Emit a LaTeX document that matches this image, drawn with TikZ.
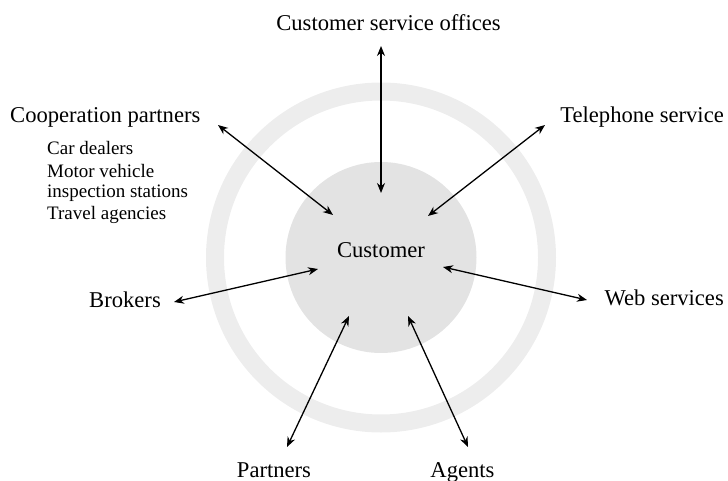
\documentclass[tikz,border=0pt]{standalone}
\usepackage{fontspec}
\setmainfont{Liberation Serif}
\usetikzlibrary{arrows.meta}
\definecolor{ringgray}{HTML}{EDEDED}
\definecolor{coregray}{HTML}{E3E3E3}
\begin{document}
\begin{tikzpicture}[x=1pt,y=-1pt,
  maintext/.style={inner sep=0pt, font=\fontsize{22.6}{26}\selectfont},
  subtext/.style={anchor=base west, inner sep=0pt, font=\fontsize{19}{22}\selectfont},
  biarrow/.style={line width=1.3pt,
    {Stealth[length=10pt,width=8pt]}-{Stealth[length=10pt,width=8pt]}}]
\useasboundingbox (0,0) rectangle (728,481);

% outer ring and customer core
\draw[ringgray, line width=18pt] (381,257.5) circle[radius=166];
\fill[coregray] (381,257.5) circle[radius=95.5];
\node[maintext, anchor=base] (customer) at (381,258) {Customer};

% channel labels
\node[maintext, anchor=base] (cso) at (388.5,31) {Customer service offices};
\node[maintext, anchor=base west] (coop) at (10,123) {Cooperation partners};
\node[subtext] (car) at (47,155) {Car dealers};
\node[subtext] (motor) at (47,178) {Motor vehicle};
\node[subtext] (insp) at (47,197) {inspection stations};
\node[subtext] (travel) at (47,220) {Travel agencies};
\node[maintext, anchor=base east] (tel) at (724,123) {Telephone service};
\node[maintext, anchor=base east] (brokers) at (161,307) {Brokers};
\node[maintext, anchor=base east] (web) at (724,305) {Web services};
\node[maintext, anchor=base] (partners) at (274,477) {Partners};
\node[maintext, anchor=base] (agents) at (462.5,477) {Agents};

% arrow end points
\coordinate (cso-out) at (381,46);   \coordinate (cso-in) at (381,193);
\coordinate (coop-out) at (218,125); \coordinate (coop-in) at (333,215);
\coordinate (tel-out) at (545,125);  \coordinate (tel-in) at (428,216);
\coordinate (bro-out) at (174,302);  \coordinate (bro-in) at (318,269);
\coordinate (web-out) at (587,300);  \coordinate (web-in) at (443,267);
\coordinate (par-out) at (287,447);  \coordinate (par-in) at (349,316);
\coordinate (age-out) at (468,447);  \coordinate (age-in) at (408,316);

% two-way connections
\draw[biarrow] (cso-out) -- (cso-in);
\draw[biarrow] (coop-out) -- (coop-in);
\draw[biarrow] (tel-out) -- (tel-in);
\draw[biarrow] (bro-out) -- (bro-in);
\draw[biarrow] (web-out) -- (web-in);
\draw[biarrow] (par-out) -- (par-in);
\draw[biarrow] (age-out) -- (age-in);
\end{tikzpicture}
\end{document}
